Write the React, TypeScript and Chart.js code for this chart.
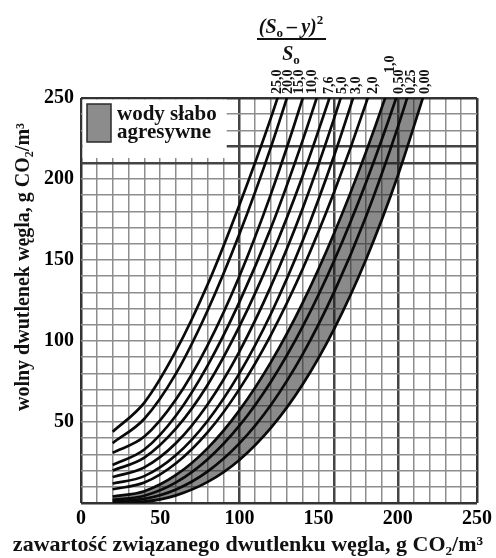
import React, { useEffect, useRef } from "react";
import { Chart, registerables } from "chart.js";

Chart.register(...registerables);

// x positions (g CO2/m3 bound) at which the curves are read
const xValues = [20, 40, 60, 80, 100, 120, 140, 160, 180, 200, 220];

// curve labels: (So - y)^2 / So
const curveLabels = ["25,0", "20,0", "15,0", "10,0", "7,6", "5,0", "3,0", "2,0", "1,0", "0,50", "0,25", "0,00"];

// free CO2 values at xValues
const curve25_0 = [44, 62, 94, 135, 184, 238, 299];
const curve20_0 = [37, 52, 80, 119, 166, 220, 281];
const curve15_0 = [31, 41, 64, 97.5, 140, 191, 250, 316];
const curve10_0 = [23.5, 33, 54, 85, 124, 170, 224, 284];
const curve7_6 = [20, 28, 46, 73, 109, 152, 202, 259];
const curve5_0 = [16, 22, 37, 61, 93.5, 134, 182, 238, 301];
const curve3_0 = [12, 16.6, 29.6, 50.8, 80, 117, 162, 215, 275];
const curve2_0 = [8.5, 12.6, 24.5, 43.7, 70.3, 104, 144.6, 192.4, 247, 309];
const curve1_0 = [4, 7.3, 17.3, 33.9, 57.2, 87.1, 123.7, 167, 216.9, 273.4, 336.6];
const curve0_50 = [2, 4.5, 12.7, 27, 47.7, 75, 109, 150, 198, 253, 315];
const curve0_25 = [1, 2.5, 8.3, 19.5, 36.8, 60.7, 91.9, 130.6, 177, 232, 295];
const curve0_00 = [0, 0.8, 4.7, 13, 26.6, 46.5, 73.3, 107.8, 150.5, 202, 263];

const curves = [curve25_0, curve20_0, curve15_0, curve10_0, curve7_6, curve5_0, curve3_0, curve2_0, curve1_0, curve0_50, curve0_25, curve0_00];

// where the rotated curve labels sit along the top (x in data units)
const labelAnchorX = [123.7, 130.7, 137.6, 145.8, 156.6, 164.8, 173.7, 184.4, 195.1, 200.8, 208.3, 217.2];

const xTickLabels = [0, 50, 100, 150, 200, 250];
const yTickLabels = [50, 100, 150, 200, 250];
const thickX = [100, 160, 200];
const thickY = [210, 220];

const legendText = ["wody słabo", "agresywne"];
const xTitle = "zawartość związanego dwutlenku węgla, g CO₂/m³";
const yTitle = "wolny dwutlenek węgla, g CO₂/m³";

const FONT = "'Liberation Serif', 'DejaVu Serif', serif";

type Part = { t: string; font: string; dy?: number };

function drawParts(ctx: CanvasRenderingContext2D, parts: Part[], cx: number, baseline: number) {
  let total = 0;
  for (const p of parts) {
    ctx.font = p.font;
    total += ctx.measureText(p.t).width;
  }
  let x = cx - total / 2;
  ctx.textAlign = "left";
  ctx.textBaseline = "alphabetic";
  for (const p of parts) {
    ctx.font = p.font;
    ctx.fillText(p.t, x, baseline + (p.dy || 0));
    x += ctx.measureText(p.t).width;
  }
  return total;
}

const overlayPlugin = {
  id: "overlay",
  afterDraw(chart: any) {
    const { ctx, chartArea } = chart;
    const { left, top } = chartArea;
    const xs = chart.scales.x;
    const ys = chart.scales.y;
    ctx.save();

    // legend box (white, covering the grid)
    const bx1 = xs.getPixelForValue(92);
    const by1 = ys.getPixelForValue(213);
    ctx.fillStyle = "#ffffff";
    ctx.fillRect(left + 1.5, top + 1.5, bx1 - left - 1.5, by1 - top - 1.5);
    ctx.fillStyle = "#8c8c8c";
    ctx.fillRect(left + 6, top + 6, 24, 38);
    ctx.strokeStyle = "#2a2a2a";
    ctx.lineWidth = 1.5;
    ctx.strokeRect(left + 6, top + 6, 24, 38);
    ctx.fillStyle = "#111";
    ctx.font = `bold 21px ${FONT}`;
    ctx.textAlign = "left";
    ctx.textBaseline = "alphabetic";
    ctx.fillText(legendText[0], left + 36, top + 22);
    ctx.fillText(legendText[1], left + 36, top + 40);

    // fraction at top
    const fx = 291;
    drawParts(ctx, [
      { t: "(S", font: `italic bold 20px ${FONT}` },
      { t: "o", font: `bold 13px ${FONT}`, dy: 4 },
      { t: "\u2009\u2013\u2009y)", font: `italic bold 20px ${FONT}` },
      { t: "2", font: `bold 13px ${FONT}`, dy: -9 },
    ], fx, 33);
    ctx.strokeStyle = "#111";
    ctx.lineWidth = 2;
    ctx.beginPath();
    ctx.moveTo(257, 39);
    ctx.lineTo(326, 39);
    ctx.stroke();
    drawParts(ctx, [
      { t: "S", font: `italic bold 20px ${FONT}` },
      { t: "o", font: `bold 13px ${FONT}`, dy: 4 },
    ], fx, 60);

    // rotated curve labels
    ctx.font = `bold 14px ${FONT}`;
    ctx.textAlign = "left";
    ctx.textBaseline = "middle";
    curveLabels.forEach((lab, i) => {
      const px = xs.getPixelForValue(labelAnchorX[i]);
      const py = lab === "1,0" ? 73 : 94;
      ctx.save();
      ctx.translate(px, py);
      ctx.rotate(-Math.PI / 2);
      ctx.fillText(lab, 0, 0);
      ctx.restore();
    });

    // axis titles
    ctx.font = `bold 22px ${FONT}`;
    ctx.textAlign = "center";
    ctx.textBaseline = "alphabetic";
    ctx.fillText(xTitle, 248, 551);
    ctx.font = `bold 20px ${FONT}`;
    ctx.save();
    ctx.translate(24, 267);
    ctx.rotate(-Math.PI / 2);
    ctx.textBaseline = "middle";
    ctx.fillText(yTitle, 0, 0);
    ctx.restore();

    ctx.restore();
  },
};

function gridColor(thick: number[]) {
  return (c: any) => {
    const v = c.tick ? c.tick.value : null;
    if (v === 0 || v === 250) return "#333";
    if (thick.includes(v)) return "#444";
    return "#8d8d8d";
  };
}
function gridWidth(thick: number[]) {
  return (c: any) => {
    const v = c.tick ? c.tick.value : null;
    if (v === 0 || v === 250) return 2.5;
    if (thick.includes(v)) return 2.5;
    return 1.5;
  };
}

export default function App() {
  const ref = useRef<HTMLCanvasElement | null>(null);
  useEffect(() => {
    if (!ref.current) return;
    const datasets = curves.map((vals, i) => ({
      label: curveLabels[i],
      data: vals.map((y, j) => ({ x: xValues[j], y })),
      borderColor: "#0a0a0a",
      borderWidth: 2.7,
      pointRadius: 0,
      cubicInterpolationMode: "monotone" as const,
      fill: i === curves.length - 1 ? 8 : false,
      backgroundColor: "rgba(30,30,30,0.52)",
    }));
    const tickFont = { family: FONT, size: 20, weight: "bold" as const };
    const chart = new Chart(ref.current, {
      type: "line",
      data: { datasets },
      plugins: [overlayPlugin],
      options: {
        animation: false,
        responsive: true,
        maintainAspectRatio: false,
        layout: { padding: { top: 98, right: 19, left: 0, bottom: 0 } },
        plugins: {
          legend: { display: false },
          tooltip: { enabled: false },
          filler: { drawTime: "beforeDatasetsDraw" },
        },
        scales: {
          x: {
            type: "linear",
            min: 0,
            max: 250,
            border: { display: false },
            grid: { drawTicks: false, color: gridColor(thickX), lineWidth: gridWidth(thickX) },
            ticks: {
              stepSize: 10,
              autoSkip: false,
              maxRotation: 0,
              padding: 4,
              color: "#000",
              font: tickFont,
              callback: (v: any) => (xTickLabels.includes(Number(v)) ? String(v) : ""),
            },
            afterFit: (s: any) => {
              s.height = 55;
            },
          },
          y: {
            type: "linear",
            min: 0,
            max: 250,
            border: { display: false },
            grid: { drawTicks: false, color: gridColor(thickY), lineWidth: gridWidth(thickY) },
            ticks: {
              stepSize: 10,
              autoSkip: false,
              padding: 7,
              color: "#000",
              font: tickFont,
              callback: (v: any) => (yTickLabels.includes(Number(v)) ? String(v) : ""),
            },
            afterFit: (s: any) => {
              s.width = 81;
            },
          },
        },
      },
    } as any);
    return () => chart.destroy();
  }, []);
  return (
    <div style={{ position: "absolute", left: 0, top: 0, width: 496, height: 558, background: "#fff" }}>
      <canvas ref={ref} />
    </div>
  );
}
